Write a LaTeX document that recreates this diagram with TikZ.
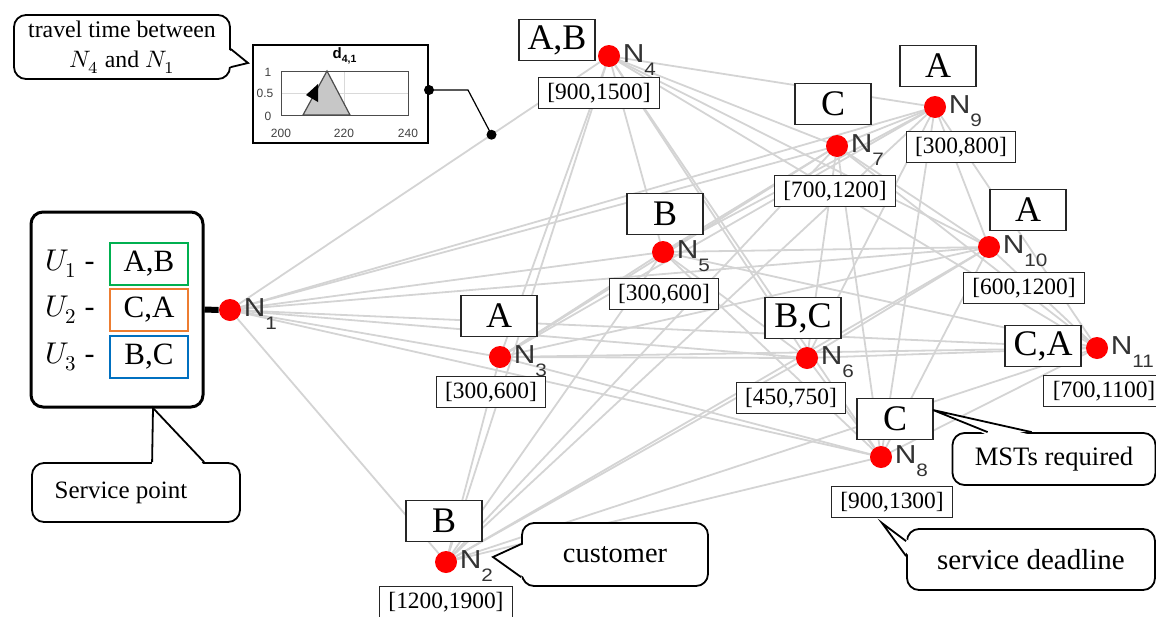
\documentclass[tikz,border=0pt]{standalone}
\usepackage{fontspec}
\usepackage{unicode-math}
\setmainfont{Liberation Serif}
\setsansfont{Liberation Sans}
\setmathfont{Latin Modern Math}
\newfontfamily\nodefont[FakeStretch=1.15]{Liberation Sans}
\usetikzlibrary{backgrounds,calc,positioning}

\definecolor{ugreen}{RGB}{0,176,80}
\definecolor{uorange}{RGB}{237,125,49}
\definecolor{ublue}{RGB}{0,112,192}

\tikzset{
  dot/.style={circle,fill=red,inner sep=0pt,minimum size=11pt},
  nlab/.style={anchor=base west,inner sep=0pt,text=black!80,font=\nodefont\fontsize{13}{13}\selectfont},
  tagbox/.style={draw=black!85,line width=0.6pt,fill=white,inner sep=0pt,
    minimum width=38pt,minimum height=20.5pt,font=\fontsize{18}{18}\selectfont},
  winbox/.style={draw=black!85,line width=0.5pt,fill=white,inner xsep=4.5pt,inner ysep=0pt,
    minimum height=15.5pt,font=\fontsize{11.7}{12}\selectfont},
  edge/.style={black!17,line width=0.9pt},
  callout/.style={draw,line width=0.9pt,rounded corners=6pt,fill=white,inner sep=0pt},
  ubox/.style={draw,line width=1pt,inner sep=0pt,minimum width=39pt,minimum height=21pt,
    font=\fontsize{15.5}{16}\selectfont},
  ulab/.style={inner sep=0pt,font=\fontsize{15}{15}\selectfont},
  ticklab/.style={inner sep=0pt,text=black!75,font=\sffamily\fontsize{6}{6}\selectfont}
}

\begin{document}
\begin{tikzpicture}[x=0.5pt,y=-0.5pt]
  \useasboundingbox (0,0) rectangle (1156,616);

  % customers
  \foreach \i/\x/\y in {1/230/310, 2/446/562, 3/500/357, 4/609/56, 5/663/252, 6/807/358,
                        7/837/146, 8/881/457, 9/935/107, 10/989/247, 11/1097/348}
    \node[dot] (n\i) at (\x,\y) {};
  \foreach \i in {1,...,11}
    \node[nlab] (l\i) at ([xshift=1pt,yshift=-3pt]n\i.east)
      {N\raisebox{-6.5pt}{\fontsize{9}{9}\selectfont\i}};

  % all links
  \begin{pgfonlayer}{background}
    \foreach \i in {1,...,10} {
      \pgfmathtruncatemacro\nxt{\i+1}
      \foreach \j in {\nxt,...,11}
        \draw[edge] (n\i.center) -- (n\j.center);
    }
  \end{pgfonlayer}

  % required MSTs
  \node[tagbox] (t4) at (557,40) {A,B};
  \node[tagbox] (t7) at (833,104) {C};
  \node[tagbox] (t9) at (938,66) {A};
  \node[tagbox] (t10) at (1028,210) {A};
  \node[tagbox] (t5) at (665,214) {B};
  \node[tagbox] (t3) at (499,316) {A};
  \node[tagbox] (t6) at (803,318) {B,C};
  \node[tagbox] (t11) at (1043,346) {C,A};
  \node[tagbox] (t8) at (895,419) {C};
  \node[tagbox] (t2) at (444,521) {B};

  % deadlines
  \node[winbox] (w4) at (599,93) {[900,1500]};
  \node[winbox] (w7) at (835,191) {[700,1200]};
  \node[winbox] (w9) at (961,147) {[300,800]};
  \node[winbox] (w10) at (1024,288) {[600,1200]};
  \node[winbox] (w5) at (664,294) {[300,600]};
  \node[winbox] (w3) at (491,392) {[300,600]};
  \node[winbox] (w6) at (791,398) {[450,750]};
  \node[winbox] (w11) at (1104,391) {[700,1100]};
  \node[winbox] (w8) at (892,502) {[900,1300]};
  \node[winbox] (w2) at (446,602) {[1200,1900]};

  % service point
  \node[draw,line width=1.5pt,rounded corners=6pt,minimum width=86pt,minimum height=97.5pt] (sp) at (117,309.5) {};
  \node[ubox,draw=ugreen] (u1) at (149,264) {A,B};
  \node[ubox,draw=uorange] (u2) at (149,310) {C,A};
  \node[ubox,draw=ublue] (u3) at (149,357) {B,C};
  \node[ulab,left=7pt of u1] (u1l) {$U_1$ -};
  \node[ulab,left=7pt of u2] (u2l) {$U_2$ -};
  \node[ulab,left=7pt of u3] (u3l) {$U_3$ -};
  \draw[line width=3pt] (sp.east) -- (n1.west);

  % travel time plot
  \node[draw,line width=1pt,minimum width=87.5pt,minimum height=49pt,inner sep=0pt] (plot) at (340.5,94) {};
  \draw[black!15,line width=0.4pt] (344,71) -- (344,115) (281,93) -- (408,93);
  \filldraw[fill=black!22,draw=black!70,line width=0.6pt] (303,115) -- (327,71) -- (350,115) -- cycle;
  \draw[black!70,line width=0.5pt] (281,71) rectangle (408,115);
  \fill (306,95) -- (318,84) -- (318,102) -- cycle;
  \node[font=\sffamily\bfseries\fontsize{7.5}{7.5}\selectfont,inner sep=0pt] (ptitle) at (345,56) {d\textsubscript{4,1}};
  \node[ticklab] (y1) at (268,72) {1};
  \node[ticklab] (y05) at (265,93) {0.5};
  \node[ticklab] (y0) at (268,116) {0};
  \node[ticklab] (x200) at (281,133) {200};
  \node[ticklab] (x220) at (344,133) {220};
  \node[ticklab] (x240) at (408,133) {240};
  \coordinate (d41) at ($(n1.center)!0.69!(n4.center)$);
  \draw[line width=0.6pt] ([yshift=2pt]plot.east) -- ++(39,0) -- (d41);
  \fill ([yshift=2pt]plot.east) circle (2.5pt) (d41) circle (2.5pt);

  % callouts
  \node[callout,minimum width=108pt,minimum height=32pt,align=center,
        font=\fontsize{11.9}{15}\selectfont] (ctt) at (122,47) {travel time between\\$N_4$ and $N_1$};
  \coordinate (ctttip) at (248,63);
  \fill[white] ($(ctt.north east)+(-3,35)$) -- (ctttip) -- ($(ctt.north east)+(-3,53)$) -- cycle;
  \draw[line width=0.9pt] ($(ctt.north east)+(0,35)$) -- (ctttip) -- ($(ctt.north east)+(0,53)$);

  \node[callout,minimum width=104pt,minimum height=29.5pt,font=\fontsize{12.5}{12.5}\selectfont] (csp) at (136,492.5) {Service point\hspace*{15pt}};
  \coordinate (csptip) at (153,408);
  \fill[white] ($(csp.north west)+(121,3)$) -- (csptip) -- ($(csp.north west)+(173,3)$) -- cycle;
  \draw[line width=0.9pt] ($(csp.north west)+(121,0)$) -- (csptip) -- ($(csp.north west)+(173,0)$);

  \node[callout,minimum width=93pt,minimum height=31.5pt,font=\fontsize{14.2}{14.2}\selectfont] (ccu) at (615,554.5) {customer};
  \coordinate (ccutip) at (493,557);
  \fill[white] ($(ccu.north west)+(3,22)$) -- (ccutip) -- ($(ccu.north west)+(3,55)$) -- cycle;
  \draw[line width=0.9pt] ($(ccu.north west)+(0,22)$) -- (ccutip) -- ($(ccu.north west)+(0,55)$);

  \node[callout,minimum width=101.5pt,minimum height=26pt,font=\fontsize{13.3}{13.3}\selectfont] (cms) at (1054,459) {MSTs required};
  \coordinate (cmstip) at (933,410);
  \fill[white] ($(cms.north west)+(36,3)$) -- (cmstip) -- ($(cms.north west)+(80,3)$) -- cycle;
  \draw[line width=0.9pt] ($(cms.north west)+(36,0)$) -- (cmstip) -- ($(cms.north west)+(80,0)$);

  \node[callout,minimum width=124pt,minimum height=30.5pt,font=\fontsize{14.5}{14.5}\selectfont] (csd) at (1031,559.5) {service deadline};
  \coordinate (csdtip) at (882,523);
  \fill[white] ($(csd.north west)+(3,13)$) -- (csdtip) -- ($(csd.north west)+(3,28)$) -- cycle;
  \draw[line width=0.9pt] ($(csd.north west)+(0,13)$) -- (csdtip) -- ($(csd.north west)+(0,28)$);
\end{tikzpicture}
\end{document}
